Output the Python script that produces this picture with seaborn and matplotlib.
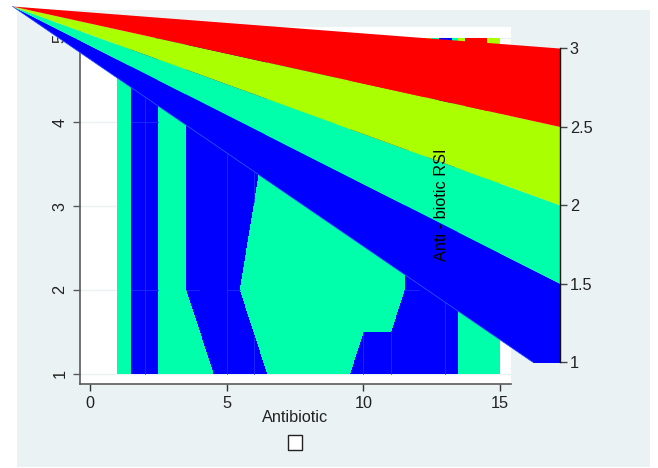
"""
    Objective: Contour plot of antibiotic RSI by antibiotic, with the stretched legend.
"""

# Importing required libraries
import numpy as np
import matplotlib.pyplot as plt
from matplotlib.patches import Rectangle
import seaborn as sns

sns.set_theme(style='white')
plt.rcParams['font.family'] = ['Liberation Sans', 'DejaVu Sans']

## Chart data

antibiotic = [1, 2, 3, 4, 5, 6, 7, 8, 9, 10, 11, 12, 13, 14, 15]
row_levels = [1, 2, 3, 4, 5]

rsi_row_1 = [2, 1, 2, 2, 1, 1, 2, 2, 2, 1, 1, 1, 1, 2, 2]
rsi_row_2 = [2, 1, 2, 1, 1, 2, 2, 2, 2, 2, 2, 1, 1, 2, 2]
rsi_row_3 = [2, 1, 2, 1, 1, 1.5, 2, 2, 2, 2, 2, 1, 1, 2, 2]
rsi_row_4 = [2, 1, 2, 1, 1, 1, 2, 2, 2, 3, 3, 3, 1, 3, 2]
rsi_row_5 = [2, 1, 2, 1, 1, 1, 2, 2, 2, 3, 3, 3, 1, 3, 2]

contour_levels = [1, 1.5, 2, 2.5, 3]
legend_bands = [0.88, 1.5, 2, 2.5, 3]
legend_ticks = [1, 1.5, 2, 2.5, 3]
legend_tick_labels = ['1', '1.5', '2', '2.5', '3']
band_colors = ['#0000ff', '#00ffaa', '#aaff00', '#ff0000']

x_ticks = [0, 5, 10, 15]
y_ticks = [1, 2, 3, 4, 5]

# Faint polygon seams inside the blue areas (x, y from, y to)
seams_vertical = [(2, 1, 4.4), (5, 1, 3.7), (6, 1, 1.45), (6, 3.05, 3.4),
                  (10, 1, 1.5), (11, 1, 1.5), (13, 1, 2.0)]
seams_horizontal = [(4, 1.5, 2.5), (2, 1.5, 2.5), (2, 3.5, 4.0), (2, 5.0, 5.5), (2, 11.5, 12.05)]

## Layout in pixels of the 658x468 picture

FIG_W, FIG_H = 658, 468
TEXT_GREY = '#222222'
AXIS_GREY = '#5a5a5a'
REGION_COLOR = '#eaf2f3'
TICK_SIZE = 11.7


def px_box(left, top, right, bottom):
    """Turn a pixel box (y going down) into figure fractions for add_axes."""
    return [left / FIG_W, 1 - bottom / FIG_H, (right - left) / FIG_W, (bottom - top) / FIG_H]


fig = plt.figure(figsize=(FIG_W / 100, FIG_H / 100), dpi=100, facecolor='white')

# Light graph region behind everything
l, b, w, h = px_box(17, 10, 650, 467)
fig.add_artist(Rectangle((l, b), w, h, transform=fig.transFigure, facecolor=REGION_COLOR,
                         edgecolor='none', zorder=-1))

## Main contour plot

ax = fig.add_axes(px_box(80, 27, 511, 384), facecolor='white', zorder=1)
rsi = np.array([rsi_row_1, rsi_row_2, rsi_row_3, rsi_row_4, rsi_row_5])
palette = sns.color_palette(band_colors)
ax.contourf(antibiotic, row_levels, rsi, levels=contour_levels, colors=palette, zorder=2)

ax.set_xlim(-0.366, 15.405)
ax.set_ylim(0.875, 5.137)
ax.set_xticks(x_ticks)
ax.set_yticks(y_ticks)
ax.yaxis.grid(True, color=REGION_COLOR, linewidth=1.0, zorder=1)
ax.set_axisbelow(True)

for x, y0, y1 in seams_vertical:
    ax.plot([x, x], [y0, y1], color='#1c2cff', linewidth=0.6, zorder=3)
for y, x0, x1 in seams_horizontal:
    ax.plot([x0, x1], [y, y], color='#1c2cff', linewidth=0.6, zorder=3)

sns.despine(ax=ax)
for side in ['left', 'bottom']:
    ax.spines[side].set_color(AXIS_GREY)
    ax.spines[side].set_linewidth(1.2)
ax.tick_params(axis='x', length=5, width=1, color='#333333', labelcolor=TEXT_GREY,
               labelsize=TICK_SIZE, pad=4, bottom=True)
ax.tick_params(axis='y', length=5, width=1, color=AXIS_GREY, labelcolor=TEXT_GREY,
               labelsize=TICK_SIZE, pad=4, left=True)
plt.setp(ax.get_yticklabels(), rotation=90, va='center')
ax.set_xlabel('Antibiotic', fontsize=11.7, color=TEXT_GREY, labelpad=-1)

## Legend, stretched out to a point at the top left corner

apex = 3.268
lax = fig.add_axes(px_box(12, 6, 560, 362), zorder=2)
lax.patch.set_alpha(0)
for low, high, color in zip(legend_bands[:-1], legend_bands[1:], band_colors):
    lax.fill_between([0, 1], [apex, low], [apex, high], color=color, linewidth=0)
lax.plot([0, 1], [apex, legend_bands[0]], color='#3060ff', linewidth=0.5)

lax.set_xlim(0, 1)
lax.set_ylim(1, apex)
lax.set_xticks([])
lax.yaxis.tick_right()
lax.set_yticks(legend_ticks)
lax.set_yticklabels(legend_tick_labels)
lax.tick_params(axis='y', length=5, width=1, color='#444444', labelcolor=TEXT_GREY,
                labelsize=TICK_SIZE, pad=2, right=True, left=False)
for side in ['left', 'top', 'bottom']:
    lax.spines[side].set_visible(False)
lax.spines['right'].set_color('#111111')
lax.spines['right'].set_linewidth(1.0)
lax.spines['right'].set_bounds(1, 3)

# Legend title lands in the middle of the bands
fig.text(441 / FIG_W, 1 - 204.5 / FIG_H, 'Anti - biotic RSI', rotation=90, ha='center', va='center',
         fontsize=11.7, color='black', zorder=5)

# Empty legend key under the x title
l, b, w, h = px_box(288, 435, 302, 449.5)
fig.add_artist(Rectangle((l, b), w, h, transform=fig.transFigure, facecolor='white',
                         edgecolor='#222222', linewidth=1.0, zorder=5))

fig.savefig('out.png', dpi=100)
